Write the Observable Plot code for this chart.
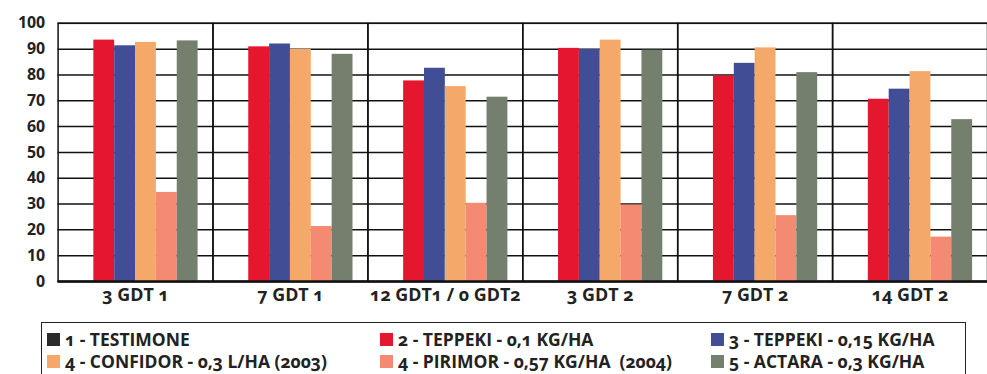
<!DOCTYPE html>
<html>
<head>
<meta charset="utf-8">
<script src="https://cdn.jsdelivr.net/npm/d3@7"></script>
<script src="https://cdn.jsdelivr.net/npm/@observablehq/plot@0.6"></script>
<style>
  html, body { margin: 0; padding: 0; background: #fff; overflow: hidden; width: 987px; height: 374px; }
  #chart { position: relative; }
  #chart svg g[aria-label="fx-axis tick label"] { font-size: 18px; }
  .legend {
    position: absolute; left: 41px; top: 322px; width: 925px; height: 60px;
    border: 1.5px solid #222; box-sizing: border-box;
    font-family: "Open Sans", sans-serif; font-weight: 700; font-size: 17.5px; color: #222;
    font-variant-numeric: oldstyle-nums;
    display: grid; grid-template-columns: 333px 331px 1fr; grid-auto-rows: 22px;
    padding: 5px 0 0 5px;
  }
  .item { display: flex; align-items: center; white-space: pre; }
  .sw { width: 13px; height: 13px; margin-right: 5px; flex: none; }
</style>
</head>
<body>
<div id="chart"></div>
<script>
const groups = ["3 GDT 1", "7 GDT 1", "12 GDT1 / 0 GDT2", "3 GDT 2", "7 GDT 2", "14 GDT 2"];
const seriesKeys = ["s1", "s2", "s3", "s4a", "s4b", "s5"];
const seriesLabels = [
  "1 - TESTIMONE",
  "2 - TEPPEKI - 0,1 KG/HA",
  "3 - TEPPEKI - 0,15 KG/HA",
  "4 - CONFIDOR - 0,3 L/HA (2003)",
  "4 - PIRIMOR - 0,57 KG/HA  (2004)",
  "5 - ACTARA - 0,3 KG/HA"
];
const seriesColors = ["#2b2b2b", "#e5172f", "#414d94", "#f4a96b", "#f48a72", "#74806d"];
const testimone = [0, 0, 0, 0, 0, 0];
const teppeki01 = [93.5, 90.9, 77.7, 90.3, 79.6, 70.6];
const teppeki015 = [91.3, 92.0, 82.6, 89.9, 84.5, 74.5];
const confidor = [92.6, 89.9, 75.5, 93.5, 90.5, 81.3];
const pirimor = [34.5, 21.3, 30.3, 29.6, 25.5, 17.2];
const actara = [93.2, 88.0, 71.4, 89.6, 80.9, 62.7];
const yTicks = [0, 10, 20, 30, 40, 50, 60, 70, 80, 90, 100];

const seriesValues = [testimone, teppeki01, teppeki015, confidor, pirimor, actara];
const data = [];
groups.forEach((g, gi) => {
  seriesKeys.forEach((k, si) => {
    data.push({group: g, series: k, value: seriesValues[si][gi]});
  });
});

const chart = Plot.plot({
  width: 994,
  height: 315,
  marginLeft: 57,
  marginRight: 0,
  marginTop: 23,
  marginBottom: 32,
  style: {fontFamily: "'Open Sans', sans-serif", fontSize: "16px", fontWeight: "700", color: "#222", background: "transparent", fontVariantNumeric: "oldstyle-nums"},
  fx: {domain: groups, padding: 0, label: null, axis: "bottom", tickSize: 0, tickPadding: 7},
  x: {domain: seriesKeys, paddingInner: 0, paddingOuter: 0.7, axis: null},
  y: {domain: [0, 100], ticks: yTicks, tickSize: 0, tickPadding: 13, label: null},
  color: {domain: seriesKeys, range: seriesColors},
  marks: [
    Plot.ruleY(yTicks, {stroke: "#111", strokeWidth: 1.5}),
    Plot.frame({stroke: "#111", strokeWidth: 1.5}),
    Plot.barY(data, {fx: "group", x: "series", y: "value", fill: "series"}),
    Plot.ruleY([0], {stroke: "#111", strokeWidth: 2.5})
  ]
});
document.getElementById("chart").appendChild(chart);

const legend = document.createElement("div");
legend.className = "legend";
seriesKeys.forEach((k, i) => {
  const item = document.createElement("div");
  item.className = "item";
  const sw = document.createElement("span");
  sw.className = "sw";
  sw.style.background = seriesColors[i];
  const t = document.createElement("span");
  t.textContent = seriesLabels[i];
  item.appendChild(sw);
  item.appendChild(t);
  legend.appendChild(item);
});
document.getElementById("chart").appendChild(legend);
</script>
</body>
</html>
